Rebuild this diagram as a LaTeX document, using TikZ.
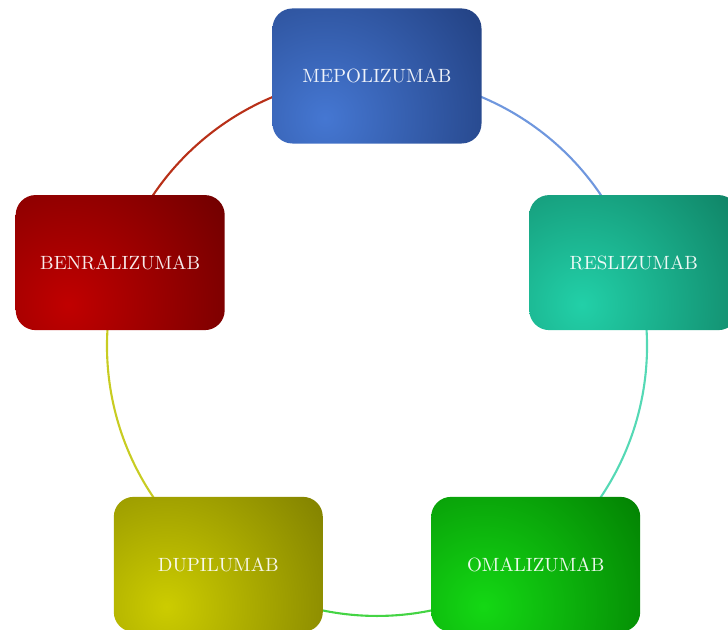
\documentclass[tikz,border=0pt]{standalone}
\usetikzlibrary{calc,backgrounds}
\definecolor{mepoDark}{HTML}{1E3A78}
\definecolor{mepoBright}{HTML}{4577D2}
\definecolor{mepoArc}{HTML}{6F97DE}
\definecolor{resliDark}{HTML}{0D785C}
\definecolor{resliBright}{HTML}{22D0A8}
\definecolor{resliArc}{HTML}{55D9B5}
\definecolor{omaliDark}{HTML}{007600}
\definecolor{omaliBright}{HTML}{14D814}
\definecolor{omaliArc}{HTML}{44D444}
\definecolor{dupiDark}{HTML}{787800}
\definecolor{dupiBright}{HTML}{CCCC00}
\definecolor{dupiArc}{HTML}{C8CC22}
\definecolor{benraDark}{HTML}{660000}
\definecolor{benraBright}{HTML}{C00000}
\definecolor{benraArc}{HTML}{B83018}
\tikzset{
  modbox/.style 2 args={rounded corners=10.4pt, minimum width=109.1pt, minimum height=70.5pt,
    inner sep=0pt, text=white, text opacity=0.92, font=\normalsize,
    path picture={\shade[inner color=#1, outer color=#2]
      ($(path picture bounding box.center)+(-52,-42)$) circle (215);}},
  conn/.style={line width=1.1pt}
}
\begin{document}
\begin{tikzpicture}[x=0.522pt,y=0.522pt]
\useasboundingbox (0,0) rectangle (728,630);
\clip (0,0) rectangle (728,630);
\node[modbox={mepoBright}{mepoDark}] (mepo) at (377,554) {MEPOLIZUMAB};
\node[modbox={resliBright}{resliDark}] (resli) at (633.8,367.4) {RESLIZUMAB};
\node[modbox={omaliBright}{omaliDark}] (omali) at (535.7,65.6) {OMALIZUMAB};
\node[modbox={dupiBright}{dupiDark}] (dupi) at (218.3,65.6) {DUPILUMAB};
\node[modbox={benraBright}{benraDark}] (benra) at (120.2,367.4) {BENRALIZUMAB};
\begin{pgfonlayer}{background}
\draw[conn, mepoArc] (mepo.center) arc[start angle=90, end angle=18, radius=270];
\draw[conn, resliArc] (resli.center) arc[start angle=18, end angle=-54, radius=270];
\draw[conn, omaliArc] (omali.center) arc[start angle=-54, end angle=-126, radius=270];
\draw[conn, dupiArc] (dupi.center) arc[start angle=-126, end angle=-198, radius=270];
\draw[conn, benraArc] (benra.center) arc[start angle=162, end angle=90, radius=270];
\end{pgfonlayer}
\end{tikzpicture}
\end{document}
